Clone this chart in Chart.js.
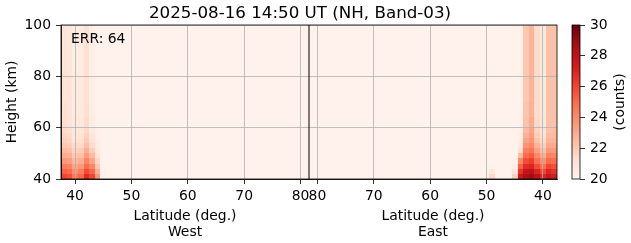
<!DOCTYPE html>
<html>
<head>
<meta charset="utf-8">
<script src="https://cdn.jsdelivr.net/npm/chart.js@4/dist/chart.umd.min.js"></script>
<style>
  html, body { margin:0; padding:0; background:#fff; }
  #wrap { position:relative; width:631px; height:243px; }
  #wrap canvas { position:absolute; left:0; top:0; }
</style>
</head>
<body>
<div id="wrap">
  <canvas id="main" width="631" height="243"></canvas>
  <canvas id="cbar" width="631" height="243"></canvas>
</div>
<script>
// ---- data ----
const TITLE = '2025-08-16 14:50 UT (NH, Band-03)';
const ERR_TEXT = 'ERR: 64';
const MID = 81.5;                // pole: West lat L -> x=L, East lat L -> x=2*MID-L
const X_RANGE = [37.5, 125.5];
const Y_RANGE = [40, 100];
const WEST_TICK_LATS = [40, 50, 60, 70, 80];
const EAST_TICK_LATS = [80, 70, 60, 50, 40];
const Y_TICKS = [40, 60, 80, 100];
const CB_RANGE = [20, 30];

const BACKGROUND = 20.15;
// row edges (km), profiles are bottom -> top, one value per row
const ROW_EDGES = [40, 42, 44, 46, 48, 50, 52, 54, 56, 58, 60, 64, 70, 80, 90, 100];

const WEST_LATS = [38, 39, 40, 41, 42, 43, 44];
const WEST_PROFILES = [
  [26.0, 25.2, 24.4, 23.6, 23.0, 22.5, 22.1, 21.8, 21.6, 21.4, 21.3, 21.2, 21.1, 21.0, 21.0],
  [25.8, 25.0, 24.2, 23.4, 22.8, 22.3, 21.9, 21.6, 21.4, 21.2, 21.1, 21.0, 21.0, 20.9, 20.9],
  [24.6, 23.9, 23.2, 22.6, 22.1, 21.7, 21.4, 21.1, 20.9, 20.8, 20.7, 20.6, 20.6, 20.5, 20.5],
  [25.1, 24.4, 23.6, 22.9, 22.3, 21.9, 21.5, 21.2, 21.0, 20.9, 20.8, 20.7, 20.7, 20.6, 20.6],
  [26.8, 25.9, 25.0, 24.2, 23.5, 22.9, 22.4, 22.0, 21.7, 21.5, 21.4, 21.3, 21.2, 21.2, 21.2],
  [26.0, 25.1, 24.1, 23.2, 22.5, 21.9, 21.4, 21.1, 20.9, 20.7, 20.6, 20.5, 20.5, 20.4, 20.4],
  [23.5, 22.8, 22.1, 21.5, 21.0, 20.7, 20.5, 20.4, 20.3, 20.3, 20.2, 20.2, 20.2, 20.2, 20.2]
];

const EAST_LATS = [49, 45, 44, 43, 42, 41, 40, 39, 38];
const EAST_PROFILES = [
  [21.5, 20.9, 20.3, 20.2, 20.2, 20.2, 20.2, 20.2, 20.2, 20.2, 20.2, 20.2, 20.2, 20.2, 20.2],
  [21.8, 21.0, 20.4, 20.3, 20.2, 20.2, 20.2, 20.2, 20.2, 20.2, 20.2, 20.2, 20.2, 20.2, 20.2],
  [27.5, 26.5, 25.3, 24.0, 22.5, 21.3, 20.8, 20.5, 20.4, 20.3, 20.3, 20.3, 20.3, 20.3, 20.3],
  [28.5, 27.8, 26.8, 25.8, 25.0, 24.3, 23.7, 23.2, 22.8, 22.5, 22.3, 22.2, 22.1, 22.1, 22.1],
  [28.8, 28.0, 27.0, 26.2, 25.4, 24.7, 24.1, 23.7, 23.4, 23.2, 23.0, 22.8, 22.7, 22.7, 22.7],
  [28.0, 27.0, 25.8, 24.8, 24.0, 23.3, 22.7, 22.2, 21.9, 21.7, 21.5, 21.4, 21.4, 21.4, 21.4],
  [27.0, 26.0, 24.8, 23.8, 23.0, 22.3, 21.8, 21.4, 21.1, 21.0, 20.9, 20.8, 20.8, 20.8, 20.8],
  [27.8, 27.0, 26.0, 25.0, 24.3, 23.6, 23.1, 22.7, 22.5, 22.3, 22.3, 22.3, 22.3, 22.3, 22.3],
  [27.3, 26.6, 25.7, 24.8, 24.1, 23.5, 23.0, 22.7, 22.5, 22.4, 22.3, 22.3, 22.3, 22.3, 22.3]
];

// matplotlib "Reds"
const REDS = [[255,245,240],[254,224,210],[252,187,161],[252,146,114],[251,106,74],
              [239,59,44],[203,24,29],[165,15,21],[103,0,13]];

const FONT = 'DejaVu Sans';
Chart.defaults.font.family = FONT;
Chart.defaults.font.size = 13.9;
Chart.defaults.color = '#000';

function reds(v){
  let t = (v - CB_RANGE[0]) / (CB_RANGE[1] - CB_RANGE[0]);
  t = Math.max(0, Math.min(1, t)) * (REDS.length - 1);
  const i = Math.min(Math.floor(t), REDS.length - 2), f = t - i;
  const a = REDS[i], b = REDS[i+1];
  return `rgb(${a.map((c,k)=>Math.round(c+(b[k]-c)*f)).join(',')})`;
}

const X_TICKS = WEST_TICK_LATS.concat(EAST_TICK_LATS.map(l => 2*MID - l));
const X_LABELS = WEST_TICK_LATS.concat(EAST_TICK_LATS).map(String);

const heatmap = {
  id:'heatmap',
  beforeDraw(chart){
    const ctx = chart.ctx, xs = chart.scales.x, ys = chart.scales.y;
    const cell = (x0,x1,y0,y1,v)=>{
      const px0 = Math.round(xs.getPixelForValue(x0)), px1 = Math.round(xs.getPixelForValue(x1));
      const py0 = Math.round(ys.getPixelForValue(y1)), py1 = Math.round(ys.getPixelForValue(y0));
      ctx.fillStyle = reds(v);
      ctx.fillRect(px0, py0, px1-px0, py1-py0);
    };
    ctx.save();
    cell(X_RANGE[0], X_RANGE[1], Y_RANGE[0], Y_RANGE[1], BACKGROUND);
    const col = (x, prof)=>{
      prof.forEach((v,r)=> cell(x-0.5, x+0.5, ROW_EDGES[r], ROW_EDGES[r+1], v));
    };
    WEST_LATS.forEach((l,i)=> col(l, WEST_PROFILES[i]));
    EAST_LATS.forEach((l,i)=> col(2*MID - l, EAST_PROFILES[i]));
    ctx.restore();
  },
  afterDraw(chart){
    const ctx = chart.ctx, a = chart.chartArea, xs = chart.scales.x;
    ctx.save();
    ctx.strokeStyle = '#000'; ctx.lineWidth = 0.8;
    ctx.strokeRect(a.left, a.top, a.right-a.left, a.bottom-a.top);
    ctx.fillStyle = '#000';
    ctx.textAlign = 'center'; ctx.textBaseline = 'alphabetic';
    ctx.font = `16.7px "${FONT}"`;
    ctx.fillText(TITLE, 300, 18);
    ctx.font = `13.9px "${FONT}"`;
    const wx = xs.getPixelForValue((X_RANGE[0]+MID)/2), ex = xs.getPixelForValue((X_RANGE[1]+MID)/2);
    ctx.fillText('Latitude (deg.)', wx, 219.5);
    ctx.fillText('West', wx, 235.5);
    ctx.fillText('Latitude (deg.)', ex, 219.5);
    ctx.fillText('East', ex, 235.5);
    ctx.textAlign = 'left';
    ctx.fillText(ERR_TEXT, a.left + 10, 43);
    ctx.restore();
  }
};

new Chart(document.getElementById('main'), {
  type:'scatter',
  data:{datasets:[{
    data:[{x:MID,y:Y_RANGE[0]},{x:MID,y:Y_RANGE[1]}],
    showLine:true, borderColor:'#000', borderWidth:1, pointRadius:0
  }]},
  options:{
    responsive:false, animation:false, events:[],
    layout:{padding:{left:0, top:25, right:74, bottom:0}},
    plugins:{legend:{display:false}, title:{display:false}, tooltip:{enabled:false}},
    scales:{
      x:{type:'linear', min:X_RANGE[0], max:X_RANGE[1],
         afterBuildTicks:s=>{ s.ticks = X_TICKS.map(v=>({value:v})); },
         afterFit:s=>{ s.height = 64; },
         ticks:{autoSkip:false, maxRotation:0, padding:4, callback:(v,i)=>X_LABELS[i]},
         grid:{color:'#b0b0b0', lineWidth:0.8, tickColor:'#000', tickLength:5},
         border:{color:'#000', width:0.8}},
      y:{type:'linear', min:Y_RANGE[0], max:Y_RANGE[1],
         afterBuildTicks:s=>{ s.ticks = Y_TICKS.map(v=>({value:v})); },
         afterFit:s=>{ s.width = 61; },
         ticks:{padding:5},
         grid:{color:'#b0b0b0', lineWidth:0.8, tickColor:'#000', tickLength:5},
         border:{color:'#000', width:0.8},
         title:{display:true, text:'Height (km)', padding:{top:4, bottom:0}}}
    }
  },
  plugins:[heatmap]
});

// colour bar
const cbPlugin = {
  id:'cb',
  beforeDraw(chart){
    const ctx = chart.ctx, a = chart.chartArea, ys = chart.scales.y;
    const g = ctx.createLinearGradient(0, ys.getPixelForValue(CB_RANGE[0]), 0, ys.getPixelForValue(CB_RANGE[1]));
    REDS.forEach((c,i)=> g.addColorStop(i/(REDS.length-1), `rgb(${c.join(',')})`));
    ctx.save();
    ctx.fillStyle = g;
    ctx.fillRect(a.left, a.top, a.right-a.left, a.bottom-a.top);
    ctx.restore();
  },
  afterDraw(chart){
    const ctx = chart.ctx, a = chart.chartArea;
    ctx.save();
    ctx.strokeStyle = '#000'; ctx.lineWidth = 0.8;
    ctx.strokeRect(a.left, a.top, a.right-a.left, a.bottom-a.top);
    ctx.translate(620, (a.top+a.bottom)/2);
    ctx.rotate(-Math.PI/2);
    ctx.fillStyle = '#000';
    ctx.font = `13.9px "${FONT}"`;
    ctx.textAlign = 'center'; ctx.textBaseline = 'middle';
    ctx.fillText('(counts)', 0, 0);
    ctx.restore();
  }
};

new Chart(document.getElementById('cbar'), {
  type:'scatter',
  data:{datasets:[]},
  options:{
    responsive:false, animation:false, events:[],
    layout:{padding:{left:572, top:25, right:0, bottom:64}},
    plugins:{legend:{display:false}, title:{display:false}, tooltip:{enabled:false}},
    scales:{
      x:{display:false, min:0, max:1},
      y:{position:'right', min:CB_RANGE[0], max:CB_RANGE[1],
         afterFit:s=>{ s.width = 51; },
         ticks:{stepSize:2, padding:5},
         grid:{drawOnChartArea:false, tickColor:'#000', lineWidth:0.8, tickLength:5},
         border:{display:false}}
    }
  },
  plugins:[cbPlugin]
});
</script>
</body>
</html>
